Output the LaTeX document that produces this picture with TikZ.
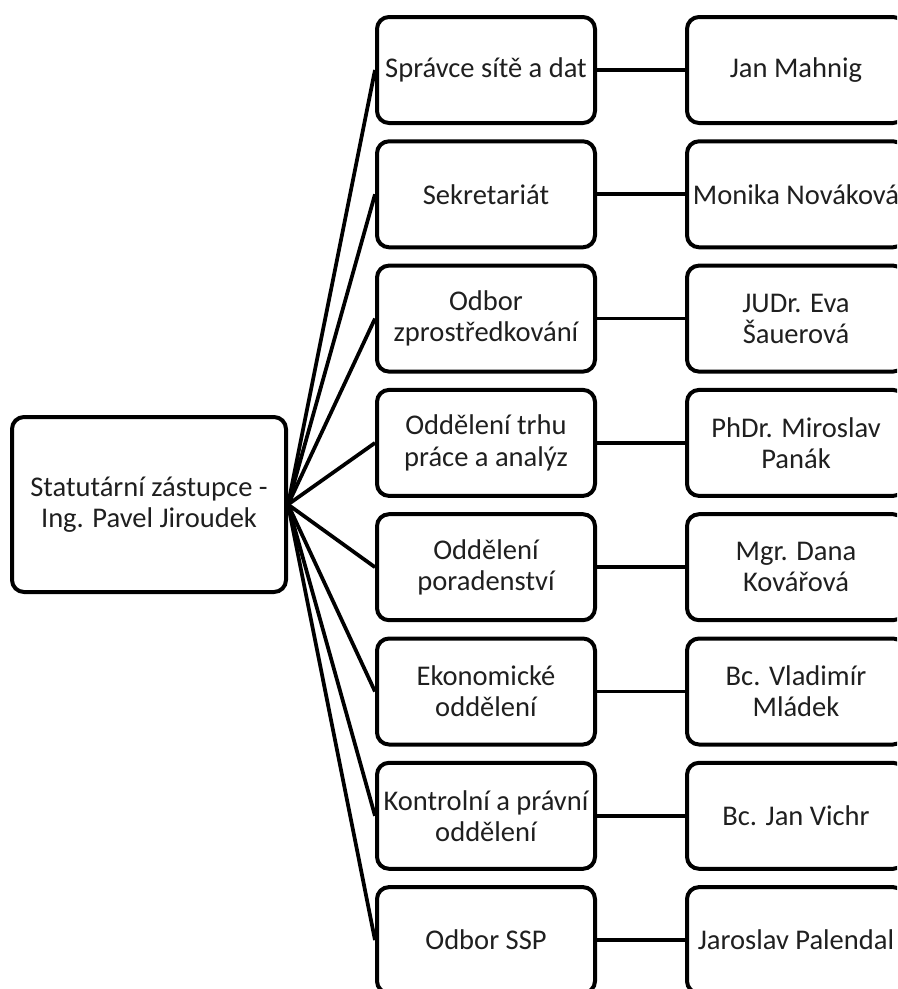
\documentclass[tikz,border=0pt]{standalone}
\usepackage{fontspec}
\setmainfont{Carlito}
\usepackage{tikz}

\begin{document}
\begin{tikzpicture}[x=0.75pt,y=-0.75pt,
		box/.style={draw, line width=3pt, rounded corners=9pt, align=center, inner sep=0pt, text=black!88, font=\fontsize{21.4pt}{23.4pt}\selectfont},
		odbor/.style={box, minimum width=163.5pt, minimum height=79.5pt},
		link/.style={line width=2.8pt}]
		
		\useasboundingbox (0,0) rectangle (897,989) ;
		\clip (0,0) rectangle (897,989) ;
		
		\node[box, minimum width=205.5pt, minimum height=131.25pt] (zastupce) at (149,504.5) {Statutární zástupce -\\Ing. Pavel Jiroudek} ;
		
		\node[odbor] (spravce) at (486,70) {Správce sítě a dat} ;
		\node[odbor] (sekretariat) at (486,194.3) {Sekretariát} ;
		\node[odbor] (zprostredkovani) at (486,318.6) {Odbor\\zprostředkování} ;
		\node[odbor] (trh) at (486,442.9) {Oddělení trhu\\práce a analýz} ;
		\node[odbor] (poradenstvi) at (486,567.2) {Oddělení\\poradenství} ;
		\node[odbor] (ekonomicke) at (486,691.5) {Ekonomické\\oddělení} ;
		\node[odbor] (kontrolni) at (486,815.8) {Kontrolní a právní\\oddělení} ;
		\node[odbor] (ssp) at (486,940.1) {Odbor SSP} ;
		
		\node[odbor] (mahnig) at (796,70) {Jan Mahnig} ;
		\node[odbor] (novakova) at (796,194.3) {Monika Nováková} ;
		\node[odbor] (sauerova) at (796,318.6) {JUDr. Eva\\Šauerová} ;
		\node[odbor] (panak) at (796,442.9) {PhDr. Miroslav\\Panák} ;
		\node[odbor] (kovarova) at (796,567.2) {Mgr. Dana\\Kovářová} ;
		\node[odbor] (mladek) at (796,691.5) {Bc. Vladimír\\Mládek} ;
		\node[odbor] (vichr) at (796,815.8) {Bc. Jan Vichr} ;
		\node[odbor] (palendal) at (796,940.1) {Jaroslav Palendal} ;
		
		\draw[link] (zastupce.east) -- (spravce.west) ;
		\draw[link] (zastupce.east) -- (sekretariat.west) ;
		\draw[link] (zastupce.east) -- (zprostredkovani.west) ;
		\draw[link] (zastupce.east) -- (trh.west) ;
		\draw[link] (zastupce.east) -- (poradenstvi.west) ;
		\draw[link] (zastupce.east) -- (ekonomicke.west) ;
		\draw[link] (zastupce.east) -- (kontrolni.west) ;
		\draw[link] (zastupce.east) -- (ssp.west) ;
		
		\draw[link] (spravce) -- (mahnig) ;
		\draw[link] (sekretariat) -- (novakova) ;
		\draw[link] (zprostredkovani) -- (sauerova) ;
		\draw[link] (trh) -- (panak) ;
		\draw[link] (poradenstvi) -- (kovarova) ;
		\draw[link] (ekonomicke) -- (mladek) ;
		\draw[link] (kontrolni) -- (vichr) ;
		\draw[link] (ssp) -- (palendal) ;
	\end{tikzpicture}
\end{document}
